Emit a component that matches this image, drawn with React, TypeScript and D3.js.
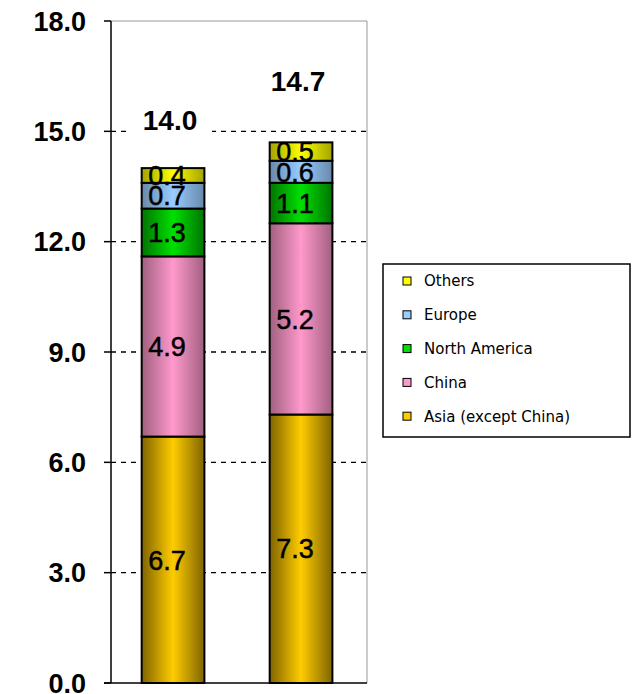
import React from "react";
import * as d3 from "d3";

const categories = ["2008", "2009"];
const seriesNames = ["Asia (except China)", "China", "North America", "Europe", "Others"];
const asia = [6.7, 7.3];
const china = [4.9, 5.2];
const northAmerica = [1.3, 1.1];
const europe = [0.7, 0.6];
const others = [0.4, 0.5];
const totals = [14.0, 14.7];
const yTicks = [0, 3, 6, 9, 12, 15, 18];

const seriesValues = [asia, china, northAmerica, europe, others];
const centerColors = ["#ffcc00", "#ff99cc", "#00e000", "#99ccff", "#ffff00"];
const edgeColors = ["#806400", "#a0607f", "#007400", "#6888aa", "#a3a300"];
const totalLift = [38, 51];

const W = 638;
const H = 694;
const left = 111;
const right = 367;
const top = 21;
const bottom = 683;

export default function App() {
  const x = d3
    .scaleBand<string>()
    .domain(categories)
    .range([left, right])
    .paddingInner(0.51)
    .paddingOuter(0.255)
    .align(0.47);
  const y = d3.scaleLinear().domain([0, 18]).range([bottom, top]);

  const rows = categories.map((c, i) => {
    const obj: any = { cat: c };
    seriesNames.forEach((s, k) => (obj[s] = seriesValues[k][i]));
    return obj;
  });
  const stacked = d3.stack<any>().keys(seriesNames)(rows);
  const bw = x.bandwidth();

  return (
    <svg
      width={W}
      height={H}
      style={{ position: "absolute", left: 0, top: 0, background: "#fff" }}
      fontFamily="'Liberation Sans', Arial, sans-serif"
    >
      <defs>
        {seriesNames.map((s, k) => (
          <linearGradient key={s} id={`grad${k}`} x1="0" x2="1" y1="0" y2="0">
            <stop offset="0%" stopColor={edgeColors[k]} />
            <stop offset="50%" stopColor={centerColors[k]} />
            <stop offset="100%" stopColor={edgeColors[k]} />
          </linearGradient>
        ))}
      </defs>

      {/* plot frame */}
      <line x1={left} x2={right} y1={top} y2={top} stroke="#999" strokeWidth={1} />
      <line x1={right} x2={right} y1={top} y2={bottom} stroke="#999" strokeWidth={1} />

      {/* dashed gridlines */}
      {yTicks
        .filter((t) => t > 0 && t < 18)
        .map((t) => (
          <line
            key={t}
            x1={left}
            x2={right}
            y1={y(t)}
            y2={y(t)}
            stroke="#000"
            strokeWidth={1.3}
            strokeDasharray="5,5"
          />
        ))}

      {/* stacked bars */}
      {stacked.map((layer, k) =>
        layer.map((d, i) => (
          <rect
            key={`${k}-${i}`}
            x={x(categories[i])!}
            y={y(d[1])}
            width={bw}
            height={y(d[0]) - y(d[1])}
            fill={`url(#grad${k})`}
            stroke="#000"
            strokeWidth={2}
          />
        ))
      )}

      {/* segment value labels */}
      {stacked.map((layer, k) =>
        layer.map((d, i) => (
          <text
            key={`l${k}-${i}`}
            x={x(categories[i])! + bw / 2 - 6}
            y={y((d[0] + d[1]) / 2)}
            dy="0.36em"
            textAnchor="middle"
            fontSize={27}
            fill="#000"
            stroke="#000"
            strokeWidth={0.5}
          >
            {seriesValues[k][i].toFixed(1)}
          </text>
        ))
      )}

      {/* totals, on a white label box */}
      {categories.map((c, i) => {
        const cx = x(c)! + bw / 2 - 3;
        const by = y(totals[i]) - totalLift[i];
        return (
          <g key={`t${c}`}>
            <rect x={cx - 42} y={by - 28} width={84} height={38} fill="#fff" />
            <text x={cx} y={by} textAnchor="middle" fontSize={28} fontWeight="bold" fill="#000">
              {totals[i].toFixed(1)}
            </text>
          </g>
        );
      })}

      {/* y axis */}
      <line x1={left} x2={left} y1={top} y2={bottom} stroke="#000" strokeWidth={1.5} />
      {yTicks.map((t) => (
        <g key={`yt${t}`}>
          <line x1={left - 7} x2={left} y1={y(t)} y2={y(t)} stroke="#000" strokeWidth={1.5} />
          <text
            x={86}
            y={y(t)}
            dy="0.36em"
            textAnchor="end"
            fontSize={27}
            fontWeight="bold"
            fill="#000"
          >
            {t.toFixed(1)}
          </text>
        </g>
      ))}
      <line x1={left - 7} x2={right} y1={bottom} y2={bottom} stroke="#000" strokeWidth={1.5} />

      {/* legend */}
      <rect x={383} y={264} width={247} height={173} fill="#fff" stroke="#000" strokeWidth={1.5} />
      {seriesNames
        .slice()
        .reverse()
        .map((s, j) => {
          const k = seriesNames.length - 1 - j;
          const cy = 281 + j * 33.8;
          return (
            <g key={`lg${s}`}>
              <rect x={403} y={cy - 4} width={8} height={8} fill={centerColors[k]} stroke="#000" strokeWidth={1} />
              <text
                x={424}
                y={cy}
                dy="0.36em"
                fontSize={15}
                fontFamily="'DejaVu Sans', Verdana, sans-serif"
                fill="#000"
              >
                {s}
              </text>
            </g>
          );
        })}
    </svg>
  );
}
